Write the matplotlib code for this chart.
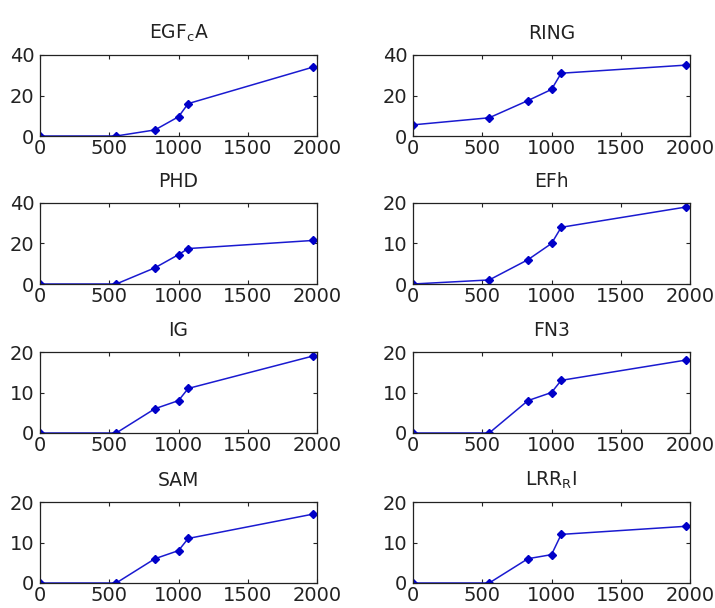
import matplotlib
matplotlib.use("Agg")
import matplotlib.pyplot as plt

plt.rcParams["font.family"] = ["DejaVu Sans"]

x = [0, 550, 830, 1000, 1070, 1970]

titles = ["EGF$_\\mathregular{c}$A", "RING", "PHD", "EFh",
          "IG", "FN3", "SAM", "LRR$_\\mathregular{R}$I"]
egfca = [0, 0, 3, 9.5, 16, 34]
ring = [5.5, 9, 17.5, 23, 31, 35]
phd = [0, 0, 8, 14.5, 17.5, 21.5]
efh = [0, 1, 6, 10, 14, 19]
ig = [0, 0, 6, 8, 11, 19]
fn3 = [0, 0, 8, 10, 13, 18]
sam = [0, 0, 6, 8, 11, 17]
lrr = [0, 0, 6, 7, 12, 14]
series = [egfca, ring, phd, efh, ig, fn3, sam, lrr]
ymax = [40, 40, 40, 20, 20, 20, 20, 20]

fig = plt.figure(figsize=(7.15, 6.08), dpi=100)
W, H = 715, 608
lefts = [40, 413]
width = 277
tops = [55, 203, 352, 502]
height = 81

for i, (t, y, ym) in enumerate(zip(titles, series, ymax)):
    r, c = divmod(i, 2)
    ax = fig.add_axes([lefts[c] / W, 1 - (tops[r] + height) / H, width / W, height / H])
    ax.plot(x, y, color="#1a1ad0", linewidth=1.1, marker="D", markersize=4.5,
            markerfacecolor="#0000c8", markeredgecolor="#0000c8")
    ax.set_xlim(0, 2000)
    ax.set_ylim(0, ym)
    ax.set_xticks([0, 500, 1000, 1500, 2000])
    ax.set_yticks([0, ym / 2, ym])
    ax.set_yticklabels([f"{v:g}" for v in [0, ym / 2, ym]])
    ax.tick_params(direction="in", top=True, right=True, length=3,
                   labelsize=14, colors="#222222")
    ax.tick_params(axis="y", pad=4)
    ax.tick_params(axis="x", pad=2)
    for s in ax.spines.values():
        s.set_linewidth(0.9)
        s.set_color("#222222")
    ax.set_title(t, fontsize=13.5, color="#222222", pad=11.5)

fig.savefig("out.png", dpi=100)
